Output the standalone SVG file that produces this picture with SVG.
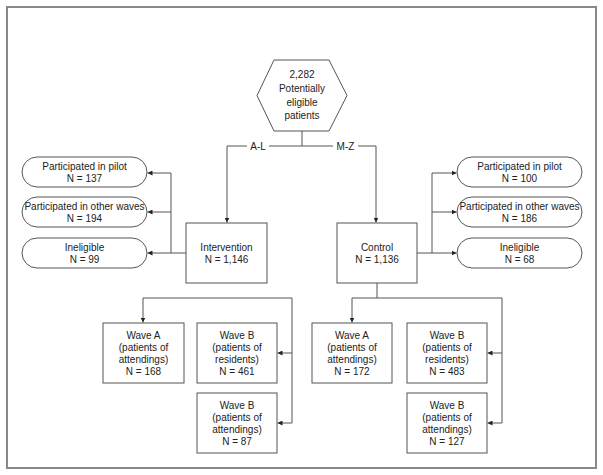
<svg xmlns="http://www.w3.org/2000/svg" width="603" height="475" viewBox="0 0 603 475">
<defs>
<marker id="ah" viewBox="0 0 10 10" refX="10" refY="5" markerWidth="5" markerHeight="5" orient="auto" markerUnits="userSpaceOnUse">
<path d="M0,0 L10,5 L0,10 z" fill="#222"/>
</marker>
<style>
.box{fill:#fff;stroke:#555;stroke-width:1}
.ln{fill:none;stroke:#555;stroke-width:1}
.arr{fill:none;stroke:#555;stroke-width:1;marker-end:url(#ah)}
text{font-family:"Liberation Sans",Arial,sans-serif;font-size:10px;fill:#222;text-anchor:middle}
</style>
</defs>
<rect x="0" y="0" width="603" height="475" fill="#fff"/>
<rect x="7" y="7" width="589" height="461" fill="none" stroke="#888" stroke-width="2"/>

<g id="connectors">
<path class="ln" d="M302,131 V146"/>
<path class="ln" d="M247,146 H227"/>
<path class="ln" d="M269,146 H333"/>
<path class="ln" d="M358,146 H376"/>
<path class="arr" d="M227,146 V222.5"/>
<path class="arr" d="M376,146 V222.5"/>
<path class="ln" d="M186,253 H171 V173"/>
<path class="arr" d="M171,173 H147.5"/>
<path class="arr" d="M171,212 H147.5"/>
<path class="arr" d="M171,253 H147.5"/>
<path class="ln" d="M417,253 H432 V173"/>
<path class="arr" d="M432,173 H456.5"/>
<path class="arr" d="M432,212 H456.5"/>
<path class="arr" d="M432,253 H456.5"/>
<path class="ln" d="M143,298 H292 V423"/>
<path class="arr" d="M143,298 V322.5"/>
<path class="arr" d="M292,353 H277.5"/>
<path class="arr" d="M292,423 H277.5"/>
<path class="ln" d="M377,283 V298 M352,298 H502 V423"/>
<path class="arr" d="M352,298 V322.5"/>
<path class="arr" d="M502,353 H487.5"/>
<path class="arr" d="M502,423 H487.5"/>
<text x="258" y="149.5">A-L</text>
<text x="345.5" y="149.5">M-Z</text>
</g>

<g id="start">
<polygon class="box" points="274,60 329,60 347,95.5 329,131 274,131 257,95.5"/>
<text x="302" y="77.5">2,282</text>
<text x="302" y="91.5">Potentially</text>
<text x="302" y="105.5">eligible</text>
<text x="302" y="119">patients</text>
</g>

<g id="intervention">
<rect class="box" x="186" y="223" width="81" height="60"/>
<text x="226.5" y="250.5">Intervention</text>
<text x="226.5" y="262.5">N = 1,146</text>
</g>

<g id="control">
<rect class="box" x="337" y="223" width="80" height="60"/>
<text x="377" y="250.5">Control</text>
<text x="377" y="262.5">N = 1,136</text>
</g>

<g id="l-pilot">
<rect class="box" x="22" y="157" width="125" height="30" rx="15" ry="15"/>
<text x="84.5" y="169.5">Participated in pilot</text>
<text x="84.5" y="181.5">N = 137</text>
</g>
<g id="l-other">
<rect class="box" x="22" y="197" width="125" height="30" rx="15" ry="15"/>
<text x="84.5" y="209.5">Participated in other waves</text>
<text x="84.5" y="221.5">N = 194</text>
</g>
<g id="l-inel">
<rect class="box" x="22" y="238" width="125" height="30" rx="15" ry="15"/>
<text x="84.5" y="250.5">Ineligible</text>
<text x="84.5" y="262.5">N = 99</text>
</g>

<g id="r-pilot">
<rect class="box" x="457" y="157" width="125" height="30" rx="15" ry="15"/>
<text x="519.5" y="169.5">Participated in pilot</text>
<text x="519.5" y="181.5">N = 100</text>
</g>
<g id="r-other">
<rect class="box" x="457" y="197" width="125" height="30" rx="15" ry="15"/>
<text x="519.5" y="209.5">Participated in other waves</text>
<text x="519.5" y="221.5">N = 186</text>
</g>
<g id="r-inel">
<rect class="box" x="457" y="238" width="125" height="30" rx="15" ry="15"/>
<text x="519.5" y="250.5">Ineligible</text>
<text x="519.5" y="262.5">N = 68</text>
</g>

<g id="l-waveA">
<rect class="box" x="103" y="323" width="81" height="60"/>
<text x="143.5" y="338.5">Wave A</text>
<text x="143.5" y="350.5">(patients of</text>
<text x="143.5" y="362.5">attendings)</text>
<text x="143.5" y="374.5">N = 168</text>
</g>
<g id="l-waveB-res">
<rect class="box" x="197" y="323" width="80" height="60"/>
<text x="237" y="338.5">Wave B</text>
<text x="237" y="350.5">(patients of</text>
<text x="237" y="362.5">residents)</text>
<text x="237" y="374.5">N = 461</text>
</g>
<g id="l-waveB-att">
<rect class="box" x="197" y="393" width="80" height="60"/>
<text x="237" y="408.5">Wave B</text>
<text x="237" y="420.5">(patients of</text>
<text x="237" y="432.5">attendings)</text>
<text x="237" y="444.5">N = 87</text>
</g>

<g id="r-waveA">
<rect class="box" x="312" y="323" width="80" height="60"/>
<text x="352" y="338.5">Wave A</text>
<text x="352" y="350.5">(patients of</text>
<text x="352" y="362.5">attendings)</text>
<text x="352" y="374.5">N = 172</text>
</g>
<g id="r-waveB-res">
<rect class="box" x="407" y="323" width="80" height="60"/>
<text x="447" y="338.5">Wave B</text>
<text x="447" y="350.5">(patients of</text>
<text x="447" y="362.5">residents)</text>
<text x="447" y="374.5">N = 483</text>
</g>
<g id="r-waveB-att">
<rect class="box" x="407" y="393" width="80" height="60"/>
<text x="447" y="408.5">Wave B</text>
<text x="447" y="420.5">(patients of</text>
<text x="447" y="432.5">attendings)</text>
<text x="447" y="444.5">N = 127</text>
</g>
</svg>
